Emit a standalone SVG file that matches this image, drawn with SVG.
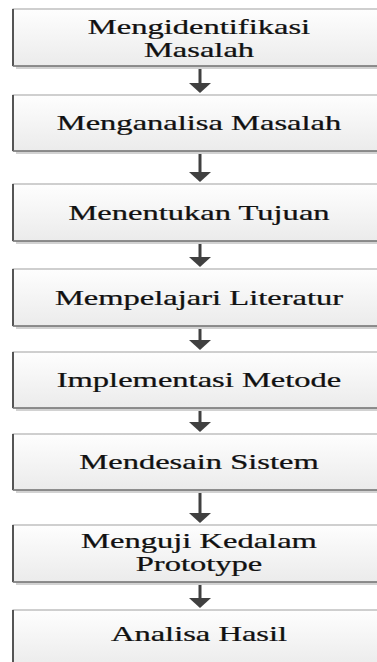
<svg xmlns="http://www.w3.org/2000/svg" width="377" height="662" viewBox="0 0 377 662">
<defs>
<linearGradient id="g" x1="0" y1="0" x2="0" y2="1">
<stop offset="0" stop-color="#fefefe"/>
<stop offset="1" stop-color="#ebebeb"/>
</linearGradient>
</defs>
<style>
.sh{fill:#d2d2d2}
.bx{fill:url(#g);stroke:#a0a0a0;stroke-width:1}
.lt{stroke:#555;stroke-width:2}
.bt{stroke:#7a7a7a;stroke-width:1.5}
.t{font-family:"Liberation Serif","Times New Roman",serif;font-weight:normal;font-size:21px;fill:#111;stroke:#111;stroke-width:0.25;text-anchor:middle}
.ln{stroke:#404040;stroke-width:3;fill:none}
.ah{fill:#404040}
</style>
<rect width="377" height="662" fill="#ffffff"/>
<g id="connectors">
<line class="ln" x1="200" y1="67" x2="200" y2="84"/><polygon class="ah" points="189,83 211,83 200,93"/>
<line class="ln" x1="200" y1="152" x2="200" y2="173"/><polygon class="ah" points="189,172 211,172 200,182"/>
<line class="ln" x1="200" y1="242" x2="200" y2="258"/><polygon class="ah" points="189,257 211,257 200,267"/>
<line class="ln" x1="200" y1="327" x2="200" y2="341"/><polygon class="ah" points="189,340 211,340 200,350"/>
<line class="ln" x1="200" y1="409" x2="200" y2="423"/><polygon class="ah" points="189,422 211,422 200,432"/>
<line class="ln" x1="200" y1="491" x2="200" y2="514"/><polygon class="ah" points="189,513 211,513 200,523"/>
<line class="ln" x1="200" y1="583" x2="200" y2="599"/><polygon class="ah" points="189,598 211,598 200,608"/>
</g>
<g id="n1">
<rect class="sh" x="16" y="12" width="400" height="57"/>
<rect class="bx" x="13" y="9" width="400" height="57"/>
<line class="lt" x1="13" y1="9" x2="13" y2="66"/><line class="bt" x1="13" y1="66" x2="400" y2="66"/>
<text class="t" transform="translate(199,34) scale(1.55,1)">Mengidentifikasi</text>
<text class="t" transform="translate(199,56.5) scale(1.55,1)">Masalah</text>
</g>
<g id="n2">
<rect class="sh" x="16" y="98" width="400" height="56"/>
<rect class="bx" x="13" y="95" width="400" height="56"/>
<line class="lt" x1="13" y1="95" x2="13" y2="151"/><line class="bt" x1="13" y1="151" x2="400" y2="151"/>
<text class="t" transform="translate(199,130) scale(1.55,1)">Menganalisa Masalah</text>
</g>
<g id="n3">
<rect class="sh" x="16" y="187" width="400" height="57"/>
<rect class="bx" x="13" y="184" width="400" height="57"/>
<line class="lt" x1="13" y1="184" x2="13" y2="241"/><line class="bt" x1="13" y1="241" x2="400" y2="241"/>
<text class="t" transform="translate(199,219.5) scale(1.55,1)">Menentukan Tujuan</text>
</g>
<g id="n4">
<rect class="sh" x="16" y="272" width="400" height="57"/>
<rect class="bx" x="13" y="269" width="400" height="57"/>
<line class="lt" x1="13" y1="269" x2="13" y2="326"/><line class="bt" x1="13" y1="326" x2="400" y2="326"/>
<text class="t" transform="translate(199,304.5) scale(1.55,1)">Mempelajari Literatur</text>
</g>
<g id="n5">
<rect class="sh" x="16" y="355" width="400" height="56"/>
<rect class="bx" x="13" y="352" width="400" height="56"/>
<line class="lt" x1="13" y1="352" x2="13" y2="408"/><line class="bt" x1="13" y1="408" x2="400" y2="408"/>
<text class="t" transform="translate(199,387) scale(1.55,1)">Implementasi Metode</text>
</g>
<g id="n6">
<rect class="sh" x="16" y="437" width="400" height="56"/>
<rect class="bx" x="13" y="434" width="400" height="56"/>
<line class="lt" x1="13" y1="434" x2="13" y2="490"/><line class="bt" x1="13" y1="490" x2="400" y2="490"/>
<text class="t" transform="translate(199,469) scale(1.55,1)">Mendesain Sistem</text>
</g>
<g id="n7">
<rect class="sh" x="16" y="528" width="400" height="57"/>
<rect class="bx" x="13" y="525" width="400" height="57"/>
<line class="lt" x1="13" y1="525" x2="13" y2="582"/><line class="bt" x1="13" y1="582" x2="400" y2="582"/>
<text class="t" transform="translate(199,548) scale(1.55,1)">Menguji Kedalam</text>
<text class="t" transform="translate(199,570.5) scale(1.55,1)">Prototype</text>
</g>
<g id="n8">
<rect class="sh" x="16" y="613" width="400" height="57"/>
<rect class="bx" x="13" y="610" width="400" height="57"/>
<line class="lt" x1="13" y1="610" x2="13" y2="667"/>
<text class="t" transform="translate(199,641) scale(1.55,1)">Analisa Hasil</text>
</g>
</svg>
